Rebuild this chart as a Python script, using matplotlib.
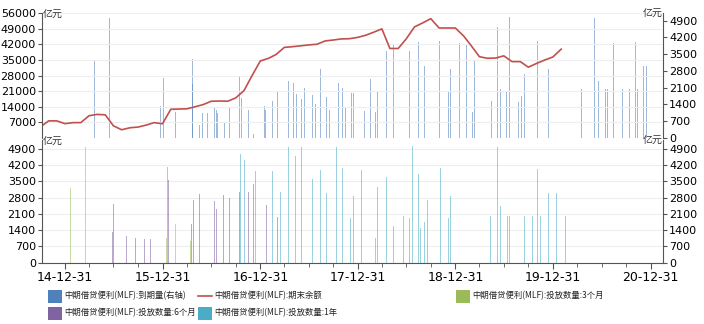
import matplotlib
matplotlib.use('Agg')
import matplotlib.pyplot as plt
import matplotlib.dates as mdates
import matplotlib.ticker as mticker
import pandas as pd
from matplotlib.patches import Rectangle
from matplotlib.lines import Line2D

plt.rcParams['font.family'] = ['DejaVu Sans', 'Noto Sans CJK SC']

# ---------------- data ----------------
balance_months = pd.date_range('2014-09-30', '2020-01-31', freq='ME')
balance_values = [5000, 7695, 7700, 6445, 6900, 6900, 10000, 10600, 10400, 5500,
                  3700, 4600, 4900, 5800, 6900, 6400, 12900, 13000, 13100, 14000,
                  15000, 16500, 16600, 16500, 18000, 21300, 28000, 34600, 35800, 37500,
                  40700, 41000, 41400, 41800, 42100, 43600, 44000, 44500, 44600, 45200,
                  46200, 47500, 49000, 40200, 40200, 44500, 49900, 51700, 53600, 49400,
                  49400, 49400, 45800, 41500, 36500, 35800, 35900, 36900, 34300, 34300,
                  31800, 33500, 35000, 36400, 39900]

maturity_dates = ['2015-04-20', '2015-06-17', '2015-12-24', '2016-01-03', '2016-02-17',
                  '2016-04-20', '2016-04-20', '2016-05-17', '2016-05-28', '2016-06-16',
                  '2016-07-12', '2016-07-19', '2016-07-24', '2016-08-17', '2016-08-20',
                  '2016-09-06', '2016-10-13', '2016-10-23', '2016-11-16', '2016-12-07',
                  '2017-01-15', '2017-01-18', '2017-02-15', '2017-03-06', '2017-04-16',
                  '2017-05-03', '2017-05-16', '2017-06-04', '2017-06-15', '2017-07-13',
                  '2017-07-24', '2017-08-14', '2017-09-06', '2017-09-15', '2017-10-14',
                  '2017-10-19', '2017-11-03', '2017-11-15', '2017-12-06', '2017-12-15',
                  '2018-01-12', '2018-01-24', '2018-02-15', '2018-03-06', '2018-03-15',
                  '2018-04-18', '2018-05-12', '2018-06-07', '2018-07-11', '2018-08-14',
                  '2018-09-06', '2018-10-12', '2018-11-02', '2018-12-06', '2018-12-12',
                  '2019-01-15', '2019-02-11', '2019-03-06', '2019-03-14', '2019-04-17',
                  '2019-05-14', '2019-06-06', '2019-06-18', '2019-07-11', '2019-07-23',
                  '2019-08-15', '2019-08-23', '2019-09-05', '2019-09-17', '2019-11-04',
                  '2019-12-05', '2019-12-13', '2020-04-16', '2020-05-14', '2020-06-05',
                  '2020-06-18', '2020-07-15', '2020-07-23', '2020-08-14', '2020-08-23',
                  '2020-09-17', '2020-10-14', '2020-11-05', '2020-11-12', '2020-12-03',
                  '2020-12-16', '2021-01-16']
maturity_values = [3230, 5000, 1320, 2520, 1100, 3300, 2250, 550, 1030, 1030,
                   1290, 1180, 1030, 1780, 680, 1250, 2610, 1670, 1180, 160,
                   1350, 1180, 1530, 1955, 2380, 2310, 1840, 1640, 2070, 1815,
                   1415, 2880, 1700, 1180, 1250, 2280, 2070, 1250, 1900, 1900,
                   1840, 1120, 2450, 1075, 1925, 3655, 3940, 5000, 3630, 4010,
                   2990, 4860, 4050, 1925, 2900, 3970, 3900, 1075, 3260, 3680,
                   1560, 4620, 2030, 1910, 5040, 3840, 1490, 1770, 2660, 4050,
                   1910, 2880, 2030, 2030, 5000, 2380, 2030, 2030, 3980, 1530,
                   2030, 2030, 4010, 2030, 2990, 2990, 3050]

m3_dates = ['2015-01-21', '2015-03-18', '2016-01-15', '2016-02-18', '2016-04-13', '2016-06-07']
m3_values = [3230, 5000, 1060, 1650, 950, 800]

m6_dates = ['2015-06-28', '2015-07-02', '2015-08-19', '2015-09-20', '2015-10-26',
            '2015-11-17', '2016-01-23', '2016-04-12', '2016-04-18', '2016-04-24',
            '2016-05-16', '2016-06-07', '2016-07-14', '2016-07-20', '2016-08-14',
            '2016-09-08', '2016-10-13', '2016-11-16', '2016-12-07', '2017-01-14',
            '2017-01-24', '2017-03-06']
m6_values = [1340, 2530, 1150, 1080, 1010, 1010, 3580, 2890, 1680, 2710,
             2940, 2135, 2640, 2300, 2900, 2780, 3040, 3030, 3390, 3090,
             2480, 1975]

y1_dates = ['2016-01-19', '2016-10-18', '2016-11-01', '2016-12-14', '2017-02-15',
            '2017-03-16', '2017-04-17', '2017-05-12', '2017-06-04', '2017-07-13',
            '2017-08-14', '2017-09-06', '2017-10-13', '2017-11-03', '2017-12-05',
            '2017-12-14', '2018-01-15', '2018-02-11', '2018-03-06', '2018-03-15',
            '2018-04-18', '2018-05-12', '2018-06-07', '2018-06-19', '2018-07-11',
            '2018-07-22', '2018-08-14', '2018-08-23', '2018-09-06', '2018-09-17',
            '2018-11-06', '2018-12-04', '2018-12-13', '2019-04-17', '2019-05-13',
            '2019-06-06', '2019-06-18', '2019-07-13', '2019-07-23', '2019-08-15',
            '2019-08-26', '2019-09-15', '2019-10-16', '2019-11-04', '2019-11-15',
            '2019-12-05', '2019-12-13', '2020-01-13', '2020-02-17']
y1_values = [4140, 4670, 4420, 3960, 3960, 3040, 4965, 4595, 4965, 3625,
             3990, 2995, 4975, 4060, 1910, 2890, 4000, 3920, 1080, 3250,
             3710, 1600, 4640, 2010, 1910, 5030, 3820, 1510, 1770, 2700,
             4070, 1910, 2875, 2010, 2010, 5000, 2440, 2010, 2010, 4025,
             1510, 2010, 2010, 4025, 2010, 3020, 3020, 3020, 2010]

year_ticks = ['2014-12-31', '2015-12-31', '2016-12-31', '2017-12-31',
              '2018-12-31', '2019-12-31', '2020-12-31']
left_ticks_top = [7000, 14000, 21000, 28000, 35000, 42000, 49000, 56000]
right_ticks = [0, 700, 1400, 2100, 2800, 3500, 4200, 4900]

names = ['中期借贷便利(MLF):到期量(右轴)', '中期借贷便利(MLF):期末余额',
         '中期借贷便利(MLF):投放数量:3个月', '中期借贷便利(MLF):投放数量:6个月',
         '中期借贷便利(MLF):投放数量:1年']
c_mat, c_line, c_3m, c_6m, c_1y = '#4f81bd', '#c0504d', '#9bbb59', '#8064a2', '#4bacc6'

# ---------------- figure ----------------
W, H = 704, 324
fig = plt.figure(figsize=(W / 100, H / 100), dpi=100)

def frac_rect(x0, y0, x1, y1):
    return [x0 / W, 1 - y1 / H, (x1 - x0) / W, (y1 - y0) / H]

xmin = pd.Timestamp('2014-10-06')
xmax = pd.Timestamp('2021-02-15')
bw = 3.2
spine_c = '#555555'
tick_fs = 8

ax1 = fig.add_axes(frac_rect(42, 13.3, 663, 138))   # bars, right axis
ax1b = ax1.twinx()                                    # line, left axis
ax2 = fig.add_axes(frac_rect(42, 139.5, 663, 262.6))

ax1.bar(pd.to_datetime(maturity_dates), maturity_values, width=bw, color=c_mat,
        alpha=0.55, linewidth=0)
ax1b.plot(balance_months, balance_values, color=c_line, lw=1.2)

ax2.bar(pd.to_datetime(m3_dates), m3_values, width=bw, color=c_3m, alpha=0.55, linewidth=0)
ax2.bar(pd.to_datetime(m6_dates), m6_values, width=bw, color=c_6m, alpha=0.55, linewidth=0)
ax2.bar(pd.to_datetime(y1_dates), y1_values, width=bw, color=c_1y, alpha=0.55, linewidth=0)

for ax in (ax1, ax1b, ax2):
    ax.set_xlim(xmin, xmax)
    ax.set_facecolor('none')
    for s in ax.spines.values():
        s.set_visible(False)

ax1.set_ylim(0, 5209)
ax1b.set_ylim(0, 56000)
ax2.set_ylim(0, 5310)

# top panel axes
ax1.yaxis.tick_right()
ax1.set_yticks(right_ticks)
ax1.spines['right'].set_visible(True)
ax1.spines['right'].set_color(spine_c)
ax1.tick_params(axis='y', which='both', right=True, left=False, labelright=True,
                labelleft=False, length=3, color=spine_c, labelsize=tick_fs, pad=1.5)
ax1.tick_params(axis='x', bottom=False, labelbottom=False)

ax1b.yaxis.tick_left()
ax1b.set_yticks(left_ticks_top)
ax1b.spines['left'].set_visible(True)
ax1b.spines['left'].set_color(spine_c)
ax1b.tick_params(axis='y', left=True, right=False, labelleft=True, labelright=False,
                 length=3, color=spine_c, labelsize=tick_fs, pad=1.5)
ax1b.tick_params(axis='x', bottom=False, labelbottom=False)
ax1b.yaxis.grid(True, color='#eeeeee', lw=0.8)
ax1b.set_axisbelow(True)
ax1b.yaxis.set_major_formatter(mticker.FormatStrFormatter('%d'))

# bottom panel axes
ax2.set_yticks(right_ticks)
ax2.spines['left'].set_visible(True)
ax2.spines['right'].set_visible(True)
ax2.spines['bottom'].set_visible(True)
for k in ('left', 'right', 'bottom'):
    ax2.spines[k].set_color(spine_c)
ax2.tick_params(axis='y', left=True, right=True, labelleft=True, labelright=True,
                length=3, color=spine_c, labelsize=tick_fs, pad=1.5)
ax2.yaxis.grid(True, color='#eeeeee', lw=0.8)
ax2.set_axisbelow(True)
ax2.xaxis.set_major_locator(mticker.FixedLocator(mdates.date2num(pd.to_datetime(year_ticks))))
minor = pd.date_range('2014-12-31', '2021-01-31', freq='QE')
ax2.xaxis.set_minor_locator(mticker.FixedLocator(mdates.date2num(minor)))
ax2.xaxis.set_major_formatter(mdates.DateFormatter('%y-%m-%d'))
ax2.tick_params(axis='x', which='major', length=4, color=spine_c, labelsize=9, pad=2)
ax2.tick_params(axis='x', which='minor', length=3, color=spine_c)

# unit labels
unit_kw = dict(fontsize=7.2, family=['Noto Sans CJK SC', 'DejaVu Sans'], color='#333333')
fig.text(42.5 / W, 1 - 13.5 / H, '亿元', ha='left', va='center', **unit_kw)
fig.text(662.5 / W, 1 - 12.5 / H, '亿元', ha='right', va='center', **unit_kw)
fig.text(42.5 / W, 1 - 141 / H, '亿元', ha='left', va='center', **unit_kw)
fig.text(662.5 / W, 1 - 140 / H, '亿元', ha='right', va='center', **unit_kw)

# legend (manual)
leg_kw = dict(fontsize=6.0, family=['Noto Sans CJK SC', 'DejaVu Sans'], color='#222222',
              ha='left', va='center')
items = [
    (48, 296, 'patch', c_mat, names[0]),
    (198, 296, 'line', c_line, names[1]),
    (456, 296, 'patch', c_3m, names[2]),
    (48, 313, 'patch', c_6m, names[3]),
    (198, 313, 'patch', c_1y, names[4]),
]
for x, y, kind, col, label in items:
    if kind == 'patch':
        fig.add_artist(Rectangle((x / W, 1 - (y + 6.5) / H), 14 / W, 13 / H,
                                 transform=fig.transFigure, facecolor=col, edgecolor='none'))
    else:
        fig.add_artist(Line2D([x / W, (x + 14) / W], [1 - y / H, 1 - y / H],
                              transform=fig.transFigure, color=col, lw=1.2))
    fig.text((x + 16) / W, 1 - y / H, label, **leg_kw)

fig.savefig('out.png', dpi=100)
